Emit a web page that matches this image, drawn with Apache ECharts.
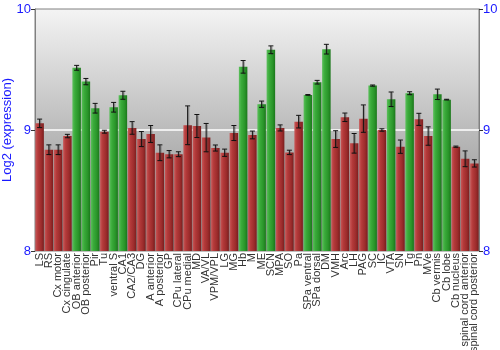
<!DOCTYPE html>
<html>
<head>
<meta charset="utf-8">
<script src="https://cdn.jsdelivr.net/npm/echarts@6/dist/echarts.min.js"></script>
<style>
  html, body { margin: 0; padding: 0; background: #fff; }
  #chart { width: 500px; height: 350px; }
</style>
</head>
<body>
<div id="chart"></div>
<script>
// Brain regions along the x axis
const regions = [
  'LS', 'RS', 'Cx motor', 'Cx cingulate', 'OB anterior', 'OB posterior', 'Pir', 'Tu',
  'ventral S', 'CA1', 'CA2/CA3', 'DG', 'A anterior', 'A posterior', 'GP', 'CPu lateral',
  'CPu medial', 'MD', 'VA/VL', 'VPM/VPL', 'LG', 'MG', 'Hb', 'M', 'ME', 'SCN', 'MPA', 'SO',
  'Pa', 'SPa ventral', 'SPa dorsal', 'DM', 'VMH', 'Arc', 'LH', 'PAG', 'SC', 'IC', 'VTA',
  'SN', 'Tg', 'Pn', 'MVe', 'Cb vermis', 'Cb lobe', 'Cb nucleus',
  'spinal cord anterior', 'spinal cord posterior'
];

// Mean log2 expression per region
const expression = [
  9.055, 8.837, 8.837, 8.950, 9.514, 9.400, 9.180, 8.986,
  9.188, 9.287, 9.017, 8.925, 8.967, 8.812, 8.800, 8.800,
  9.039, 9.033, 8.937, 8.851, 8.812, 8.975, 9.522, 8.959, 9.213, 9.663, 9.017, 8.815,
  9.069, 9.290, 9.395, 9.668, 8.925, 9.105, 8.890, 9.094, 9.367, 9.000, 9.254,
  8.862, 9.304, 9.088, 8.950, 9.295, 9.251, 8.862,
  8.762, 8.724
];

// Standard error per region
const stderr = [
  0.035, 0.040, 0.040, 0.014, 0.020, 0.026, 0.040, 0.012,
  0.040, 0.033, 0.052, 0.062, 0.070, 0.065, 0.030, 0.020,
  0.160, 0.095, 0.117, 0.025, 0.030, 0.062, 0.052, 0.032, 0.026, 0.032, 0.025, 0.018,
  0.052, 0.003, 0.015, 0.040, 0.069, 0.035, 0.081, 0.113, 0.005, 0.010, 0.060,
  0.055, 0.012, 0.050, 0.076, 0.043, 0.003, 0.005,
  0.065, 0.030
];

// Regions flagged as enriched (drawn green)
const enriched = [
  0, 0, 0, 0, 1, 1, 1, 0,
  1, 1, 0, 0, 0, 0, 0, 0,
  0, 0, 0, 0, 0, 0, 1, 0, 1, 1, 0, 0,
  0, 1, 1, 1, 0, 0, 0, 0, 1, 0, 1,
  0, 1, 0, 0, 1, 1, 0,
  0, 0
];

const yTicks = [8, 9, 10];

function barFill(isGreen) {
  const stops = isGreen
    ? [['#5cbf5c', 0], ['#3aab3a', 0.3], ['#2a952a', 0.7], ['#1b771b', 1]]
    : [['#c85858', 0], ['#b43a3a', 0.3], ['#9c2c2c', 0.7], ['#7a1e1e', 1]];
  return new echarts.graphic.LinearGradient(0, 0, 1, 0,
    stops.map(s => ({ offset: s[1], color: s[0] })));
}

const barData = expression.map((v, i) => ({
  value: v,
  itemStyle: { color: barFill(enriched[i] === 1) }
}));

const errData = expression.map((v, i) => [i, v - stderr[i], v + stderr[i]]);

const chart = echarts.init(document.getElementById('chart'), null, { renderer: 'canvas' });

const fontFamily = 'Liberation Sans, Arial, sans-serif';

const yAxisBase = {
  type: 'value',
  min: yTicks[0],
  max: yTicks[yTicks.length - 1],
  interval: 1,
  axisLine: { show: true, lineStyle: { color: '#808080', width: 1 } },
  axisTick: { show: true, length: 4, lineStyle: { color: '#333' } },
  axisLabel: { color: '#1a1aff', fontSize: 13, fontFamily: fontFamily, margin: 4 },
  splitLine: { show: false }
};

chart.setOption({
  animation: false,
  backgroundColor: '#ffffff',
  grid: {
    left: 35, right: 21, top: 9, bottom: 99,
    outerBoundsMode: 'none',
    containLabel: false,
    show: true,
    borderColor: '#808080',
    borderWidth: 1,
    backgroundColor: new echarts.graphic.LinearGradient(0, 0, 0, 1, [
      { offset: 0, color: '#f4f4f4' },
      { offset: 1, color: '#828282' }
    ])
  },
  xAxis: {
    type: 'category',
    data: regions,
    axisLine: { show: false },
    axisTick: { show: false },
    axisLabel: {
      interval: 0,
      rotate: 90,
      fontSize: 11,
      color: '#333',
      margin: 2,
      fontFamily: fontFamily
    }
  },
  yAxis: [
    Object.assign({}, yAxisBase, {
      position: 'left',
      name: 'Log2 (expression)',
      nameLocation: 'middle',
      nameGap: 21,
      nameMoveOverlap: false,
      nameTextStyle: { color: '#1a1aff', fontSize: 13, fontFamily: fontFamily },
      splitLine: {
        show: true,
        lineStyle: { color: ['transparent', '#ffffff', 'transparent'], width: 1.5 }
      }
    }),
    Object.assign({}, yAxisBase, { position: 'right' })
  ],
  series: [
    {
      type: 'bar',
      data: barData,
      barCategoryGap: '8%',
      yAxisIndex: 0
    },
    {
      type: 'custom',
      yAxisIndex: 0,
      data: errData,
      z: 5,
      renderItem: function (params, api) {
        const x = api.value(0);
        const lo = api.coord([x, api.value(1)]);
        const hi = api.coord([x, api.value(2)]);
        const half = 2.5;
        const line = (x1, y1, x2, y2, color, w) => ({
          type: 'line',
          shape: { x1, y1, x2, y2 },
          style: { stroke: color, lineWidth: w }
        });
        return {
          type: 'group',
          children: [
            line(lo[0] + 1, lo[1] + 1, hi[0] + 1, hi[1] + 1, 'rgba(60,60,60,0.35)', 1.5),
            line(lo[0], lo[1], hi[0], hi[1], '#111', 1),
            line(lo[0] - half, lo[1], lo[0] + half, lo[1], '#111', 1),
            line(hi[0] - half, hi[1], hi[0] + half, hi[1], '#111', 1)
          ]
        };
      }
    }
  ]
});
</script>
</body>
</html>
